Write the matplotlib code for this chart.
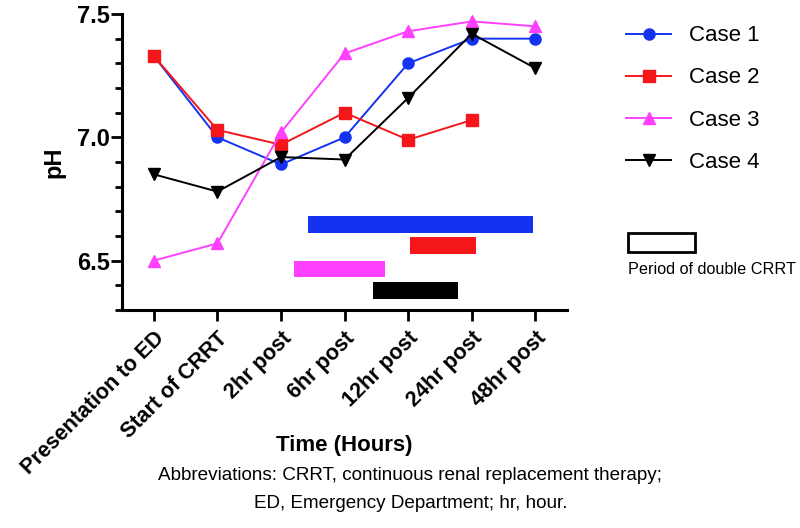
import matplotlib
matplotlib.use("Agg")
import matplotlib.pyplot as plt
from matplotlib.patches import Rectangle
from matplotlib.ticker import MultipleLocator
import numpy as np

plt.rcParams['font.family'] = ['Liberation Sans', 'DejaVu Sans']

categories = ["Presentation to ED", "Start of CRRT", "2hr post", "6hr post",
              "12hr post", "24hr post", "48hr post"]
case1 = [7.33, 7.00, 6.89, 7.00, 7.30, 7.40, 7.40]
case2 = [7.33, 7.03, 6.97, 7.10, 6.99, 7.07, np.nan]
case3 = [6.50, 6.57, 7.02, 7.34, 7.43, 7.47, 7.45]
case4 = [6.85, 6.78, 6.92, 6.91, 7.16, 7.42, 7.28]
series_names = ["Case 1", "Case 2", "Case 3", "Case 4"]

# Period of double CRRT (x in category-index units), one bar per case
crrt_start = [2.43, 4.03, 2.20, 3.45]
crrt_end = [5.96, 5.06, 3.63, 4.78]
crrt_level = [6.646, 6.561, 6.466, 6.378]

colors = ["#1433F0", "#F5161C", "#FF40FF", "#000000"]
markers = ["o", "s", "^", "v"]

fig = plt.figure(figsize=(8, 5.28), dpi=100)
ax = fig.add_axes([0.1525, 0.4129, 0.709 - 0.1525, 0.9735 - 0.4129])

x = np.arange(len(categories))
handles = []
for vals, c, m, name in zip([case1, case2, case3, case4], colors, markers, series_names):
    ms = 8.5 if m in ("^", "v") else 8
    h, = ax.plot(x, vals, color=c, marker=m, markersize=ms, linewidth=1.4,
                 markeredgecolor=c, label=name, zorder=3)
    handles.append(h)

for s, e, lv, c in zip(crrt_start, crrt_end, crrt_level, colors):
    ax.barh(lv, e - s, left=s, height=0.067, color=c, zorder=2)

ax.set_xlim(-0.5, 6.5)
ax.set_ylim(6.3, 7.5)
ax.set_yticks([6.5, 7.0, 7.5])
ax.yaxis.set_minor_locator(MultipleLocator(0.1))
ax.set_yticklabels(["6.5", "7.0", "7.5"], fontsize=17, fontweight='bold')
ax.set_xticks(x)
ax.set_xticklabels(categories, rotation=45, ha='right', rotation_mode='anchor',
                   fontsize=15.5, fontweight='bold')

for sp in ['top', 'right']:
    ax.spines[sp].set_visible(False)
for sp in ['left', 'bottom']:
    ax.spines[sp].set_linewidth(2.2)
ax.tick_params(axis='both', which='major', length=8, width=2, direction='out')
ax.tick_params(axis='y', which='minor', length=5, width=2)
ax.tick_params(axis='y', which='major', pad=1)
ax.tick_params(axis='x', pad=5)

ax.set_ylabel("pH", fontsize=17, fontweight='bold', labelpad=8)
fig.text(0.43, 1 - 446 / 528, "Time (Hours)", fontsize=16, fontweight='bold',
         ha='center', va='center')

leg = fig.legend(handles=handles, loc='upper left', bbox_to_anchor=(0.758, 0.99),
                 frameon=False, fontsize=16, handlelength=2.0, handletextpad=0.8,
                 labelspacing=0.95)

fig.add_artist(Rectangle((628 / 800, 1 - 252 / 528), 67 / 800, 19 / 528,
                         transform=fig.transFigure, fill=False, edgecolor='black',
                         linewidth=2))
fig.text(628 / 800, 1 - 270 / 528, "Period of double CRRT", fontsize=11.7,
         ha='left', va='center')

fig.text(0.513, 1 - 476 / 528,
         "Abbreviations: CRRT, continuous renal replacement therapy;",
         fontsize=13.6, ha='center', va='center')
fig.text(0.513, 1 - 504 / 528, "ED, Emergency Department; hr, hour.",
         fontsize=13.6, ha='center', va='center')

fig.savefig("out.png", dpi=100)
